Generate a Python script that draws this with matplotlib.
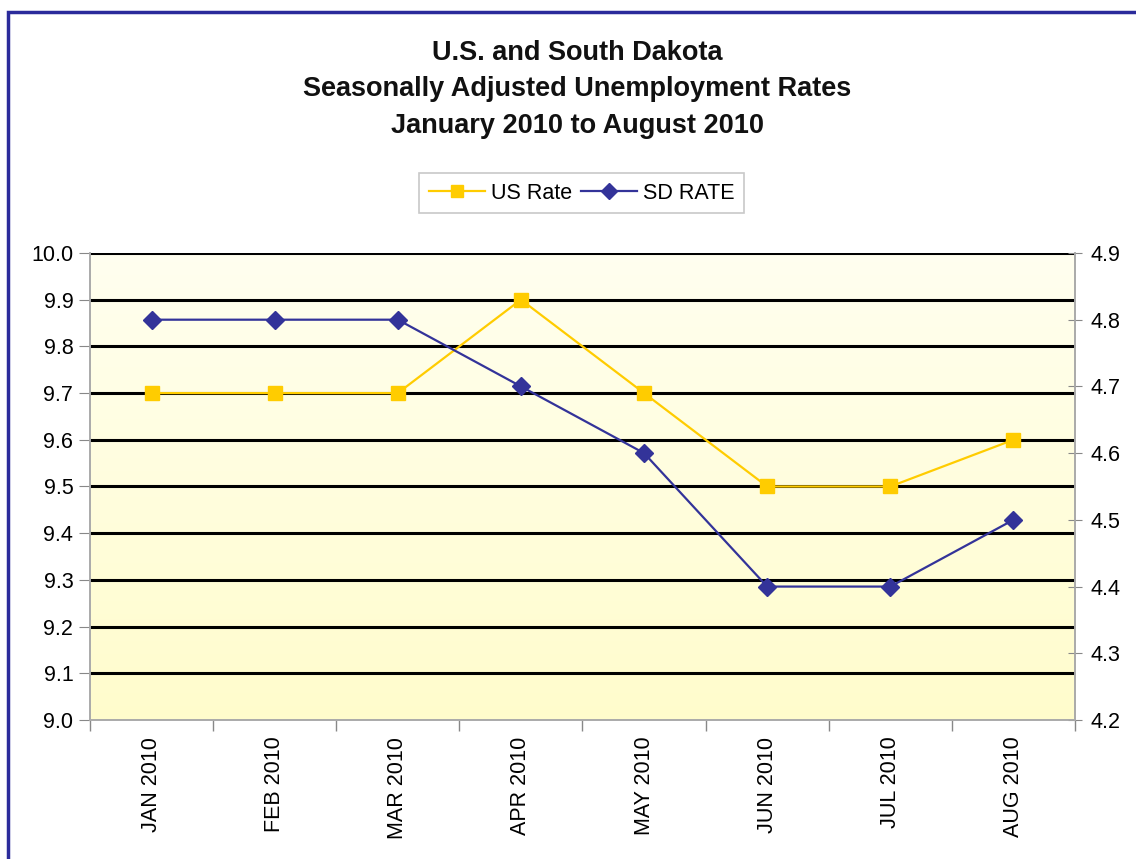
import numpy as np
import matplotlib.pyplot as plt
from matplotlib.patches import Rectangle

# data
months = ['JAN 2010', 'FEB 2010', 'MAR 2010', 'APR 2010',
          'MAY 2010', 'JUN 2010', 'JUL 2010', 'AUG 2010']
us_rate = [9.7, 9.7, 9.7, 9.9, 9.7, 9.5, 9.5, 9.6]
sd_rate = [4.8, 4.8, 4.8, 4.7, 4.6, 4.4, 4.4, 4.5]
left_ticks = [9.0, 9.1, 9.2, 9.3, 9.4, 9.5, 9.6, 9.7, 9.8, 9.9, 10.0]
right_ticks = [4.2, 4.3, 4.4, 4.5, 4.6, 4.7, 4.8, 4.9]

plt.rcParams['font.family'] = ['Liberation Sans', 'DejaVu Sans']

fig = plt.figure(figsize=(11.36, 8.59), dpi=100)
ax = fig.add_axes([0.0792, 0.1618, 0.8671, 0.5437])
ax2 = ax.twinx()

x = np.arange(len(months))

# gradient background (pale at top, more yellow at bottom)
grad = np.linspace(0, 1, 256).reshape(-1, 1)
top = np.array([1.0, 1.0, 0.94])
bot = np.array([1.0, 0.99, 0.80])
img = top[None, None, :] * (1 - grad[:, :, None]) + bot[None, None, :] * grad[:, :, None]
ax.imshow(img, extent=[0, 1, 0, 1], transform=ax.transAxes, aspect='auto', zorder=0)

ax.set_xlim(-0.5, len(months) - 0.5)
ax.set_ylim(9.0, 10.0)
ax2.set_ylim(4.2, 4.9)

for v in left_ticks[1:]:
    ax.axhline(v, color='black', lw=2.2, zorder=1)

l1, = ax.plot(x, us_rate, color='#FFCC00', lw=1.6, marker='s', ms=10,
              label='US Rate', zorder=3)
l2, = ax2.plot(x, sd_rate, color='#333399', lw=1.6, marker='D', ms=9,
               label='SD RATE', zorder=3)

ax.set_yticks(left_ticks)
ax.set_yticklabels([f'{v:.1f}' for v in left_ticks])
ax2.set_yticks(right_ticks)
ax2.set_yticklabels([f'{v:.1f}' for v in right_ticks])

ax.set_xticks(np.arange(len(months) + 1) - 0.5)
ax.set_xticklabels([])
ax.set_xticks(x, minor=True)
ax.set_xticklabels(months, minor=True, rotation=90)
ax.tick_params(axis='x', which='minor', length=0, pad=12, labelsize=15.5)
ax.tick_params(axis='x', which='major', length=8, color='#888888', width=1)
ax.tick_params(axis='y', length=8, color='#888888', labelsize=15.5, pad=4)
ax2.tick_params(axis='y', length=10, color='#888888', labelsize=15.5,
                direction='inout', pad=6)

for a in (ax, ax2):
    for s in ('left', 'right', 'bottom'):
        a.spines[s].set_color('#aaaaaa')
        a.spines[s].set_linewidth(1.2)
    a.spines['top'].set_visible(False)
ax2.patch.set_visible(False)

fig.text(0.508, 0.896, 'U.S. and South Dakota\nSeasonally Adjusted Unemployment Rates\nJanuary 2010 to August 2010',
         ha='center', va='center', fontsize=19.5, fontweight='bold',
         linespacing=1.52, color='#111111')

leg = fig.legend(handles=[l1, l2], loc='center', bbox_to_anchor=(0.512, 0.775),
                 ncol=2, fontsize=15.5, frameon=True, fancybox=False,
                 edgecolor='#bbbbbb', handlelength=2.6, columnspacing=0.4,
                 handletextpad=0.3, borderpad=0.45, markerscale=0.9)
leg.get_frame().set_linewidth(1.2)

# navy border around the chart (cut off at right and bottom in the original)
fig.patches.append(Rectangle((8 / 1136, -0.05), 1.1, 1 - 12 / 859 + 0.05,
                             transform=fig.transFigure, fill=False,
                             edgecolor='#2b2b9b', lw=2.5, zorder=10))

fig.savefig('out.png', dpi=100)
